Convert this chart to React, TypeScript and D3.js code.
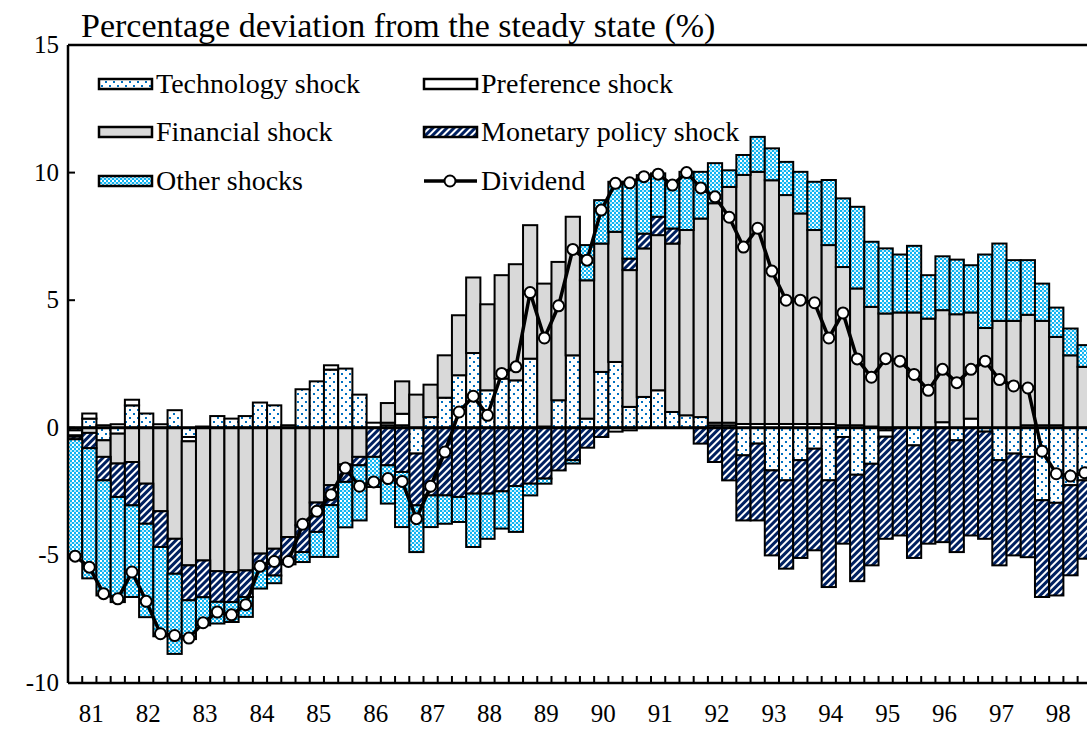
import * as d3 from 'd3'

// quarterly decomposition, 1981Q1 - 1998Q4
const YEARS = ['81', '82', '83', '84', '85', '86', '87', '88', '89', '90', '91', '92', '93', '94', '95', '96', '97', '98']
const QUARTERS = YEARS.flatMap(y => ['Q1', 'Q2', 'Q3', 'Q4'].map(q => y + q))

const technology = [
  -0.1, 0.36, -0.49, -0.23, 0.88, 0.56, 0, 0.69,
  -0.36, 0, 0.46, 0.36, 0.46, 0.99, 0.88, 0,
  1.51, 1.82, 2.28, 2.32, 1.3, 0, 0.1, 0.1,
  -1.01, 0.42, 1.18, 2.06, 2.93, 1.47, 1.93, 1.86,
  2.71, 0.05, 1.08, 2.84, 0.36, 2.19, 2.58, 0.82,
  1.21, 1.47, 0.62, 0.49, 0.42, 0.1, 0.1, -1.08,
  -0.62, -1.67, -2.06, -1.27, -0.82, -2.06, -0.36, -1.84,
  -1.41, -0.1, 0, -0.69, 0, 0, -0.49, 0,
  -0.15, -1.27, -1.01, -1.14, -2.84, -2.94, -2.25, -2.06
]
const preference = [
  -0.2, 0.2, 0.1, 0.14, 0.22, 0, 0.14, 0,
  -0.17, 0.05, 0, 0, 0, 0, 0, 0.1,
  0, 0, 0.17, 0, 0, 0.2, 0.1, 0.45,
  0, 0, 0, 0, 0, 0, 0, 0,
  0, 0, 0, 0, 0, 0, -0.15, -0.1,
  0, 0, 0, 0, 0, 0.1, 0.1, 0.15,
  0.15, 0.15, 0.15, 0.15, 0.15, 0.15, 0.1, 0.1,
  0.05, -0.25, 0, 0, 0, 0.22, 0, 0.36,
  0, 0, 0, 0.1, 0.1, 0.1, 0, 0
]
const financial = [
  -0.05, -0.2, -0.65, -1.17, -1.34, -2.19, -3.27, -4.35,
  -4.86, -5.2, -5.62, -5.65, -5.59, -4.93, -4.74, -4.28,
  -3.82, -2.93, -2.25, -1.44, -1.14, 0, 0.77, 1.27,
  1.3, 1.27, 1.66, 2.35, 2.96, 3.37, 4.05, 4.55,
  5.23, 5.6, 5.42, 5.43, 5.42, 5.03, 5.1, 5.36,
  5.82, 6.08, 6.6, 7.26, 7.78, 8.6, 9.24, 9.76,
  9.88, 9.55, 8.97, 8.25, 7.6, 7.01, 6.2, 5.36,
  4.69, 4.48, 4.52, 4.52, 4.28, 4.39, 4.45, 4.16,
  3.91, 4.19, 4.19, 4.33, 4.09, 3.46, 2.84, 2.39
]
const monetary = [
  -0.1, -0.6, -0.92, -1.31, -1.7, -1.57, -1.4, -1.37,
  -1.37, -1.44, -1.2, -1.18, -1.04, -0.59, -1.05, -0.92,
  -1.05, -1.15, -0.78, -0.68, -0.33, -1.14, -1.47, -1.73,
  -2.03, -2.65, -2.65, -2.71, -2.58, -2.58, -2.49, -2.28,
  -2.19, -1.99, -1.67, -1.27, -0.78, -0.36, 0, 0.45,
  0.58, 0.72, 0.59, 0, -0.62, -1.34, -2.06, -2.55,
  -3.01, -3.33, -3.46, -3.83, -3.98, -4.18, -4.18, -4.17,
  -3.98, -4.0, -4.22, -4.41, -4.54, -4.48, -4.38, -4.22,
  -4.2, -4.12, -3.99, -3.93, -3.79, -3.63, -3.53, -3.07
]
const other = [
  -4.6, -5.1, -4.51, -4.12, -3.59, -3.66, -3.5, -3.14,
  -1.52, -1.1, -0.85, -0.78, -0.78, -0.78, -0.3, -0.15,
  -0.39, -0.98, -2.03, -1.78, -2.16, -1.18, -1.5, -2.16,
  -1.83, -1.24, -1.11, -0.98, -2.09, -1.77, -1.46, -1.8,
  -0.46, -0.2, 0, -0.13, 1.38, 1.7, 1.96, 3.01,
  2.29, 1.7, 1.77, 2.28, 1.83, 1.57, 0.65, 0.78,
  1.37, 1.25, 1.3, 1.63, 1.89, 2.55, 2.69, 3.2,
  2.55, 2.55, 2.27, 2.61, 1.7, 2.11, 2.14, 1.85,
  2.88, 3.03, 2.38, 2.14, 1.46, 1.15, 1.05, 0.85
]
const dividend = [
  -5.03, -5.46, -6.5, -6.7, -5.65, -6.8, -8.07, -8.14,
  -8.24, -7.64, -7.22, -7.33, -6.93, -5.43, -5.24, -5.24,
  -3.78, -3.27, -2.62, -1.58, -2.29, -2.12, -1.99, -2.1,
  -3.56, -2.29, -0.95, 0.62, 1.24, 0.49, 2.13, 2.39,
  5.3, 3.52, 4.78, 6.99, 6.57, 8.53, 9.58, 9.6,
  9.84, 9.94, 9.51, 10.0, 9.4, 9.05, 8.25, 7.08,
  7.82, 6.14, 5.0, 5.0, 4.9, 3.52, 4.5, 2.7,
  1.98, 2.71, 2.61, 2.09, 1.47, 2.29, 1.77, 2.29,
  2.61, 1.89, 1.64, 1.56, -0.92, -1.8, -1.89, -1.76
]

const Y_TICKS = [15, 10, 5, 0, -5, -10]

const SERIES = [
  { key: 'technology', label: 'Technology shock', fill: 'url(#pat-tech)' },
  { key: 'preference', label: 'Preference shock', fill: '#ffffff' },
  { key: 'financial', label: 'Financial shock', fill: '#d9d9d9' },
  { key: 'monetary', label: 'Monetary policy shock', fill: 'url(#pat-mon)' },
  { key: 'other', label: 'Other shocks', fill: 'url(#pat-other)' }
]

const W = 1087
const H = 729
const LEFT = 68
const TOP = 45
const BOTTOM = 683
const STEP = 14.22
const FONT = '"Liberation Serif", "Times New Roman", serif'

export default function App() {
  const rows = QUARTERS.map((q, i) => ({
    q,
    technology: technology[i],
    preference: preference[i],
    financial: financial[i],
    monetary: monetary[i],
    other: other[i]
  }))

  const x = d3.scaleBand<string>()
    .domain(QUARTERS)
    .range([LEFT, LEFT + QUARTERS.length * STEP])
    .padding(0)
  const y = d3.scaleLinear().domain([-10, 15]).range([BOTTOM, TOP])

  const stacked = d3.stack<any>()
    .keys(SERIES.map(s => s.key))
    .offset(d3.stackOffsetDiverging)(rows)

  const cx = (i: number) => x(QUARTERS[i])! + x.bandwidth() / 2
  const line = d3.line<number>()
    .x((_, i) => cx(i))
    .y(d => y(d))

  // legend grid: two columns, three rows
  const legendCols = [99, 424]
  const legendRows = [84, 132, 181]
  const legendItems = [
    { ...SERIES[0], col: 0, row: 0 },
    { ...SERIES[1], col: 1, row: 0 },
    { ...SERIES[2], col: 0, row: 1 },
    { ...SERIES[3], col: 1, row: 1 },
    { ...SERIES[4], col: 0, row: 2 }
  ]

  const boundaries = d3.range(QUARTERS.length + 1).map(i => LEFT + i * STEP)

  return (
    <svg width={W} height={H} style={{ position: 'absolute', left: 0, top: 0, background: '#fff' }} fontFamily={FONT}>
      <defs>
        <pattern id="pat-tech" width={8} height={8} patternUnits="userSpaceOnUse">
          <rect width={8} height={8} fill="#fff" />
          <rect x={1} y={1} width={2} height={2} fill="#0070c0" />
          <rect x={5} y={5} width={2} height={2} fill="#0070c0" />
        </pattern>
        <pattern id="pat-mon" width={5} height={5} patternUnits="userSpaceOnUse" patternTransform="rotate(45)">
          <rect width={5} height={5} fill="#fff" />
          <rect width={3} height={5} fill="#002060" />
        </pattern>
        <pattern id="pat-other" width={4} height={4} patternUnits="userSpaceOnUse">
          <rect width={4} height={4} fill="#0fb4f2" />
          <rect x={0} y={0} width={2} height={2} fill="#ffffff" />
          <rect x={2} y={2} width={2} height={2} fill="#b8e9fb" />
        </pattern>
      </defs>

      {/* title */}
      <text x={81} y={37} fontSize={34} fill="#000">Percentage deviation from the steady state (%)</text>

      {/* plot frame */}
      <line x1={LEFT} x2={W + 20} y1={TOP} y2={TOP} stroke="#000" strokeWidth={2.5} />

      {/* bars */}
      {stacked.map((layer, si) => (
        <g key={SERIES[si].key}>
          {layer.map((d, i) => {
            const y0 = y(d[0])
            const y1 = y(d[1])
            if (Math.abs(y0 - y1) < 0.01) return null
            return (
              <rect
                key={i}
                x={x(QUARTERS[i])}
                y={Math.min(y0, y1)}
                width={x.bandwidth()}
                height={Math.abs(y0 - y1)}
                fill={SERIES[si].fill}
                stroke="#000"
                strokeWidth={2}
              />
            )
          })}
        </g>
      ))}

      {/* zero line */}
      <line x1={LEFT} x2={W + 20} y1={y(0)} y2={y(0)} stroke="#000" strokeWidth={3} />

      {/* axes */}
      <line x1={LEFT} x2={LEFT} y1={TOP} y2={BOTTOM} stroke="#000" strokeWidth={2.5} />
      <line x1={LEFT} x2={W + 20} y1={BOTTOM} y2={BOTTOM} stroke="#000" strokeWidth={2.5} />
      {Y_TICKS.map(t => (
        <g key={t}>
          <line x1={LEFT} x2={LEFT + 7} y1={y(t)} y2={y(t)} stroke="#000" strokeWidth={2} />
          <text x={59} y={y(t) + 8} fontSize={25} textAnchor="end">{t}</text>
        </g>
      ))}
      {boundaries.map((bx, i) => (
        <line key={i} x1={bx} x2={bx} y1={BOTTOM} y2={BOTTOM - 7} stroke="#000" strokeWidth={2} />
      ))}
      {YEARS.map(yr => (
        <text key={yr} x={x(yr + 'Q2')! + x.bandwidth() / 2 + 2} y={722} fontSize={25} textAnchor="middle">{yr}</text>
      ))}

      {/* dividend */}
      <path d={line(dividend) || ''} fill="none" stroke="#000" strokeWidth={3.5} />
      {dividend.map((v, i) => (
        <circle key={i} cx={cx(i)} cy={y(v)} r={5.5} fill="#fff" stroke="#000" strokeWidth={2} />
      ))}

      {/* legend */}
      {legendItems.map(it => (
        <g key={it.key}>
          <rect x={legendCols[it.col]} y={legendRows[it.row] - 5} width={53} height={10} fill={it.fill} stroke="#000" strokeWidth={2.5} />
          <text x={legendCols[it.col] + 57} y={legendRows[it.row] + 9} fontSize={28}>{it.label}</text>
        </g>
      ))}
      <g>
        <line x1={legendCols[1]} x2={legendCols[1] + 53} y1={legendRows[2]} y2={legendRows[2]} stroke="#000" strokeWidth={3.5} />
        <circle cx={legendCols[1] + 26} cy={legendRows[2]} r={5.5} fill="#fff" stroke="#000" strokeWidth={2} />
        <text x={legendCols[1] + 57} y={legendRows[2] + 9} fontSize={28}>Dividend</text>
      </g>
    </svg>
  )
}
